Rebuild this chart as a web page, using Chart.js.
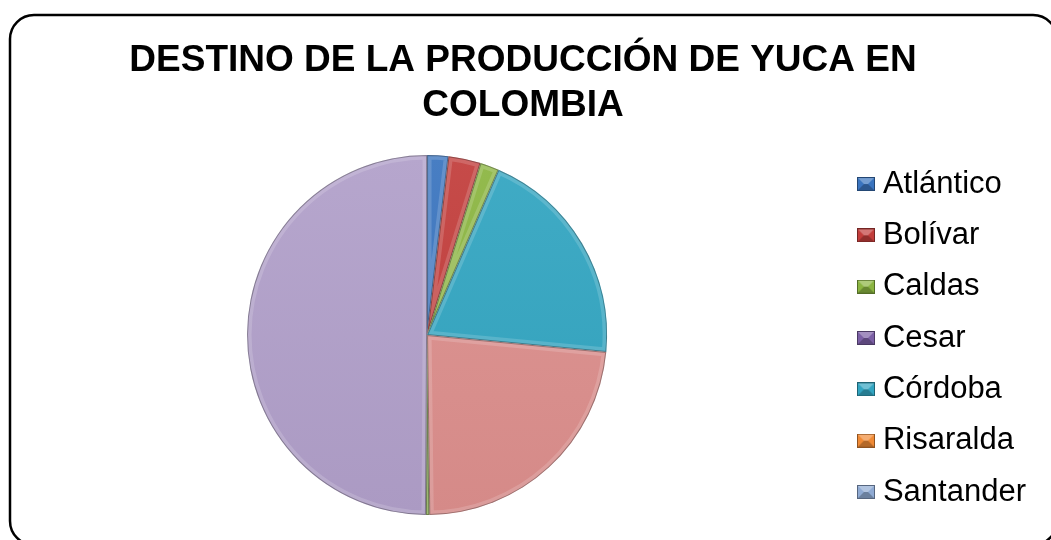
<!DOCTYPE html>
<html><head><meta charset="utf-8">
<script src="https://cdn.jsdelivr.net/npm/chart.js@4.4.0/dist/chart.umd.min.js"></script>
<style>html,body{margin:0;padding:0;background:#fff;overflow:hidden}canvas{display:block}</style>
</head><body>
<canvas id="c" width="1051" height="540"></canvas>
<script>
// ---- data ----
const titleLines = ['DESTINO DE LA PRODUCCIÓN DE YUCA EN', 'COLOMBIA'];
const categories = ['Atlántico', 'Bolívar', 'Caldas', 'Cesar', 'Córdoba', 'Risaralda', 'Santander', 'Sucre', 'Tolima', 'Valle del Cauca'];
const shares = [1.9, 2.9, 1.7, 0, 20.0, 0, 0, 23.3, 0.3, 49.9];
const legendCount = 7;
const sliceColors = ['#3A74BF', '#C23D3B', '#8BB541', '#7B5FA5', '#32A5C1', '#F08A35', '#8FAAD3', '#DC8E8C', '#8FB05A', '#B09FC9'];

// ---- helpers ----
function mix(hex, target, f) {
  const n = parseInt(hex.slice(1), 16);
  const r = (n >> 16) & 255, g = (n >> 8) & 255, b = n & 255;
  const m = c => Math.round(c + (target - c) * f);
  return 'rgb(' + m(r) + ',' + m(g) + ',' + m(b) + ')';
}
function makeIcon(color) {
  const cv = document.createElement('canvas');
  cv.width = 18; cv.height = 14;
  const c = cv.getContext('2d');
  c.fillStyle = color; c.fillRect(0, 0, 18, 14);
  c.fillStyle = mix(color, 255, 0.3);
  c.beginPath(); c.moveTo(0, 0); c.lineTo(18, 0); c.lineTo(11, 7); c.lineTo(7, 7); c.closePath(); c.fill();
  c.fillStyle = mix(color, 0, 0.25);
  c.beginPath(); c.moveTo(0, 14); c.lineTo(18, 14); c.lineTo(11, 7); c.lineTo(7, 7); c.closePath(); c.fill();
  c.strokeStyle = mix(color, 0, 0.4); c.lineWidth = 1;
  c.strokeRect(0.5, 0.5, 17, 13);
  return cv;
}
const icons = sliceColors.map(makeIcon);

function sliceFill(ctx) {
  const chart = ctx.chart;
  const base = sliceColors[ctx.dataIndex];
  const area = chart.chartArea;
  if (!area) return base;
  const cy = (area.top + area.bottom) / 2;
  const g = chart.ctx.createLinearGradient(0, cy - 180, 0, cy + 180);
  g.addColorStop(0, mix(base, 255, 0.07));
  g.addColorStop(1, mix(base, 0, 0.03));
  return g;
}

const framePlugin = {
  id: 'frame',
  beforeDraw(chart) {
    const ctx = chart.ctx;
    ctx.save();
    ctx.fillStyle = '#ffffff';
    ctx.fillRect(0, 0, chart.width, chart.height);
    ctx.beginPath();
    ctx.roundRect(10, 15, 1047, 530, 24);
    ctx.lineWidth = 2.5;
    ctx.strokeStyle = '#000000';
    ctx.stroke();
    ctx.restore();
  }
};

const bevelPlugin = {
  id: 'bevel',
  afterDatasetsDraw(chart) {
    const ctx = chart.ctx;
    const meta = chart.getDatasetMeta(0);
    meta.data.forEach((arc) => {
      const p = arc.getProps(['x', 'y', 'startAngle', 'endAngle', 'outerRadius'], true);
      if (p.endAngle - p.startAngle <= 0) return;
      ctx.save();
      ctx.beginPath();
      ctx.moveTo(p.x, p.y);
      ctx.arc(p.x, p.y, p.outerRadius, p.startAngle, p.endAngle);
      ctx.closePath();
      ctx.clip();
      ctx.lineJoin = 'round';
      ctx.strokeStyle = 'rgba(255,255,255,0.16)';
      ctx.lineWidth = 9;
      ctx.stroke();
      ctx.strokeStyle = 'rgba(0,0,0,0.3)';
      ctx.lineWidth = 2;
      ctx.stroke();
      ctx.restore();
    });
  }
};

new Chart(document.getElementById('c'), {
  type: 'pie',
  data: {
    labels: categories,
    datasets: [{
      data: shares,
      backgroundColor: sliceFill,
      borderWidth: 0,
      radius: 180
    }]
  },
  options: {
    responsive: false,
    animation: false,
    layout: { padding: { left: 10, right: 15, top: 0, bottom: 5 } },
    plugins: {
      tooltip: { enabled: false },
      title: {
        display: true,
        text: titleLines,
        color: '#000000',
        font: { family: "'Liberation Sans', Arial, sans-serif", size: 37, weight: 'bold', lineHeight: 1.2 },
        padding: { top: 39, bottom: 7.2 }
      },
      legend: {
        display: true,
        position: 'right',
        align: 'center',
        fullSize: false,
        title: { display: true, text: ' ', font: { size: 5, lineHeight: 1.2 }, padding: 0 },
        labels: {
          color: '#000000',
          font: { family: "'Liberation Sans', Arial, sans-serif", size: 31 },
          usePointStyle: true,
          pointStyleWidth: 3,
          boxHeight: 14,
          padding: 20.33,
          filter: (item) => item.index < legendCount,
          generateLabels(chart) {
            const base = Chart.overrides.pie.plugins.legend.labels.generateLabels(chart);
            return base.map((it) => Object.assign(it, { pointStyle: icons[it.index], lineWidth: 0 }));
          }
        }
      }
    }
  },
  plugins: [framePlugin, bevelPlugin]
});
</script>
</body></html>
